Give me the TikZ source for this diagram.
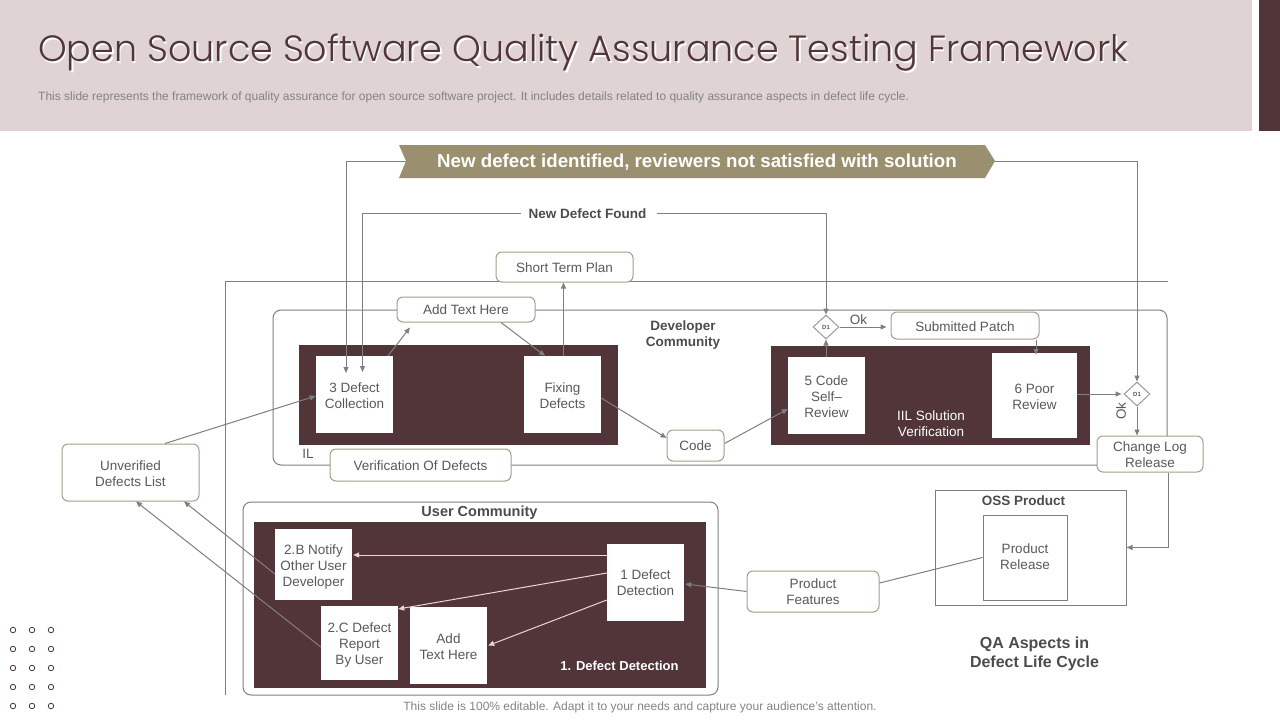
\documentclass[tikz,border=0pt]{standalone}
\usepackage{fontspec}
\setmainfont{Liberation Sans}
\newfontfamily\titlefont{Poppins Light}
\usetikzlibrary{arrows.meta,calc,shapes.geometric}
\definecolor{dark}{HTML}{513538}
\definecolor{pinkbg}{HTML}{E0D3D3}
\definecolor{banner}{HTML}{9A8F6E}
\definecolor{lineg}{HTML}{7F7F7F}
\definecolor{edge}{HTML}{A39E88}
\definecolor{txt}{HTML}{595959}
\definecolor{pale}{HTML}{E6D8D8}
\newcommand{\fs}[2]{\fontsize{#1pt}{#2pt}\selectfont}
\newcommand{\T}[2][1.0]{\raisebox{\dimexpr-#1pt-5pt\relax}[0pt][0pt]{\begin{tabular}[c]{@{}c@{}}#2\end{tabular}}}
\tikzset{
  x=1pt,y=-1pt,
  sizebox/.style 2 args={minimum width=#1pt,minimum height=#2pt},
  rbox/.style={draw=edge,line width=1pt,fill=white,rounded corners=6pt,inner sep=0pt,text=txt,font=\fs{13.5}{16}},
  wbox/.style={fill=white,inner sep=0pt,text=txt,font=\fs{13.5}{16}},
  dbox/.style={fill=dark,inner sep=0pt},
  plainbox/.style={draw=lineg,line width=1pt,inner sep=0pt},
  lab/.style={text=txt,inner sep=0pt,align=center,font=\fs{13.5}{16}},
  blab/.style={text=txt!85!black,inner sep=0pt,align=center,font=\bfseries\fs{13.5}{16}},
  wlab/.style={text=white,inner sep=0pt,align=center,font=\fs{13.5}{16}},
  dia/.style={diamond,draw=lineg!80,line width=1pt,fill=white,inner sep=0pt,aspect=1.08,minimum width=26pt,minimum height=24pt,font=\bfseries\fs{6}{7},text=txt},
  conn/.style={draw=lineg,line width=1pt,-{Triangle[length=6pt,width=5pt]}},
  plainconn/.style={draw=lineg,line width=1pt},
  paleconn/.style={draw=pale,line width=1pt,-{Triangle[length=6pt,width=5pt]}},
  dotc/.style={draw=dark,line width=.8pt,fill=white,circle,inner sep=0pt,minimum size=5.5pt},
}
\begin{document}
\begin{tikzpicture}
\useasboundingbox (0,0) rectangle (1280,720);
% header
\fill[pinkbg] (0,0) rectangle (1252,131);
\fill[dark] (1259,0) rectangle (1280,131);
\node[anchor=west,inner sep=0pt,text=white,font=\titlefont\fs{36.5}{44}] (titleshadow) at (39.5,54.5) {Open Source Software Quality Assurance Testing Framework};
\node[anchor=west,inner sep=0pt,text=dark,font=\titlefont\fs{36.5}{44}] (title) at (38,53) {Open Source Software Quality Assurance Testing Framework};
\node[anchor=west,inner sep=0pt,text=txt!75,font=\fs{12}{14}] (subtitle) at (38,97) {This slide represents the framework of quality assurance for open source software project. It includes details related to quality assurance aspects in defect life cycle.};
% frames
\coordinate (fa) at (225,695);
\coordinate (fb) at (225,281);
\coordinate (fc) at (1168,281);
\draw[plainconn] (fa) -- (fb) -- (fc);
\node[draw=lineg,line width=1pt,rounded corners=8pt,sizebox={894}{155},inner sep=0pt] (devframe) at (720,387.5) {};
\node[draw=lineg,line width=1pt,rounded corners=8pt,sizebox={475}{193},inner sep=0pt] (userframe) at (480.5,598.5) {};
% dark panels
\node[dbox,sizebox={319}{100}] (panelA) at (458.5,395) {};
\node[dbox,sizebox={319}{99}] (panelB) at (930.5,395.5) {};
\node[dbox,sizebox={452}{166}] (panelC) at (480,605) {};
% banner
\fill[banner] (399,145) -- (985,145) -- (995,161) -- (985,178) -- (399,178) -- (406,161) -- cycle;
\coordinate (banL) at (406,161);
\coordinate (banR) at (995,161);
\node[inner sep=0pt,text=white,font=\bfseries\fs{18.7}{22}] (bannertext) at (697,162) {New defect identified, reviewers not satisfied with solution};
% labels
\node[blab] (newdef) at (587.5,214) {New Defect Found};
\node[blab] (devcom) at (683,335) {Developer\\Community};
\node[blab,font=\bfseries\fs{14.5}{17}] (usercom) at (479.5,513) {User Community};
\node[blab] (oss) at (1023.5,501) {OSS Product};
\node[blab,font=\bfseries\fs{16}{19}] (qa) at (1034.5,653.5) {QA Aspects in\\Defect Life Cycle};
\node[lab] (il) at (308,453.5) {IL};
\node[lab] (ok1) at (858.5,320) {Ok};
\node[lab,rotate=90] (ok2) at (1121,411) {Ok};
\node[wlab] (iil) at (931,423.5) {IIL Solution\\Verification};
\node[wlab,font=\bfseries\fs{13}{16}] (dd) at (619.5,666) {1. Defect Detection};
\node[inner sep=0pt,text=txt!75,font=\fs{12}{14}] (footer) at (640,707) {This slide is 100\% editable. Adapt it to your needs and capture your audience's attention.};
% round boxes
\node[rbox,sizebox={137}{30}] (stp) at (564.5,267) {\T{Short Term Plan}};
\node[rbox,sizebox={138}{25}] (ath) at (466,309.5) {\T[.3]{Add Text Here}};
\node[rbox,sizebox={181}{32}] (vod) at (420.5,465) {\T{Verification Of Defects}};
\node[rbox,sizebox={57}{31}] (code) at (695.5,445.5) {\T[.3]{Code}};
\node[rbox,sizebox={137}{57}] (udl) at (130.5,472.5) {\T{Unverified\\Defects List}};
\node[rbox,sizebox={148}{27}] (sub) at (965,325.5) {\T{Submitted Patch}};
\node[rbox,sizebox={106}{36}] (clr) at (1150,454) {\T{Change Log\\Release}};
\node[rbox,sizebox={132}{41}] (pf) at (813,591.5) {\T[.3]{Product\\Features}};
% white boxes
\node[wbox,sizebox={77}{77}] (dc) at (354.5,394.5) {\T{3 Defect\\Collection}};
\node[wbox,sizebox={77}{77}] (fd) at (562.5,394.5) {\T{Fixing\\Defects}};
\node[wbox,sizebox={77}{77}] (csr) at (826.5,395.5) {\T{5 Code\\Self--\\Review}};
\node[wbox,sizebox={85}{85}] (pr) at (1034.5,395.5) {\T{6 Poor\\Review}};
\node[wbox,sizebox={77}{71}] (nb) at (313.5,564.5) {\T{2.B Notify\\Other User\\Developer}};
\node[wbox,sizebox={77}{74}] (rc) at (359.5,643) {\T{2.C Defect\\Report\\By User}};
\node[wbox,sizebox={77}{77}] (ath2) at (448.5,645.5) {\T{Add\\Text Here}};
\node[wbox,sizebox={77}{77}] (dd1) at (645.5,582.5) {\T[.6]{1 Defect\\Detection}};
% OSS
\node[plainbox,sizebox={191}{115}] (ossb) at (1030.5,547.5) {};
\node[plainbox,fill=white,sizebox={84}{85},text=txt,font=\fs{13.5}{16}] (prel) at (1025,557.5) {\T[-.7]{Product\\Release}};
% diamonds
\node[dia] (d1) at (826,327) {D1};
\node[dia] (d2) at (1137,394) {D1};
% connectors
\coordinate (nl) at ([xshift=-7pt,yshift=1pt]newdef.west);
\coordinate (nr) at ([xshift=10pt,yshift=1pt]newdef.east);
\coordinate (lcA) at (346,161);
\coordinate (lcB) at (362.5,213);
\draw[conn] (banL) -- (lcA) -- ([xshift=-8.5pt,yshift=21.5pt]dc.center);
\draw[conn] (nl) -- (lcB) -- ([xshift=8pt,yshift=22.5pt]dc.center);
\draw[conn] (nr) -| (d1.north);
\draw[conn] (banR) -| (d2.north);
\draw[conn] (d2.south) -- ([xshift=-13pt]clr.north);
\draw[conn] ([xshift=33.5pt]dc.north) -- ([xshift=-56pt,yshift=-5pt]ath.south);
\draw[conn] ([xshift=35pt]ath.south) -- ([xshift=-17.5pt]fd.north);
\draw[conn] ([xshift=1pt]fd.north) -- ([xshift=-1pt]stp.south);
\draw[conn] ([yshift=-3.5pt]fd.east) -- ([yshift=7.5pt]code.west);
\draw[conn] ([yshift=2pt]code.east) -- ([yshift=-13.5pt]csr.west);
\draw[conn] ([xshift=-.5pt]csr.north) -- (d1.south);
\draw[conn] (d1.east) -- ([xshift=-4pt,yshift=-1.5pt]sub.west);
\draw[conn] ([xshift=71pt]sub.south) -- ([xshift=1.5pt,yshift=-2pt]pr.north);
\draw[conn] ([yshift=1.5pt]pr.east) -- ([xshift=-2pt]d2.west);
\draw[conn] ([xshift=18pt]clr.south) |- (ossb.east);
\draw[plainconn] (prel.west) -- ([yshift=8.5pt]pf.east);
\draw[conn] (pf.west) -- ([xshift=1pt,yshift=-1.5pt]dd1.east);
\draw[paleconn] ([yshift=27.5pt]dd1.west) -- ([xshift=1pt,yshift=9.5pt]nb.east);
\draw[paleconn] ([yshift=9.5pt]dd1.west) -- ([yshift=34pt]rc.east);
\draw[paleconn] ([yshift=-17.5pt]dd1.west) -- ([xshift=1pt]ath2.east);
\draw[conn] ([yshift=-9.5pt]nb.west) -- ([xshift=53.5pt]udl.south);
\draw[conn] ([yshift=-4pt]rc.west) -- ([xshift=5.5pt]udl.south);
\draw[conn] ([xshift=34.5pt]udl.north) -- ([yshift=-1.5pt]dc.west);
% dots
\foreach \r in {0,...,4}{\foreach \c in {0,1,2}{
  \node[dotc] (dot\r\c) at (13+19*\c,630+19*\r) {};
}}
\end{tikzpicture}
\end{document}
